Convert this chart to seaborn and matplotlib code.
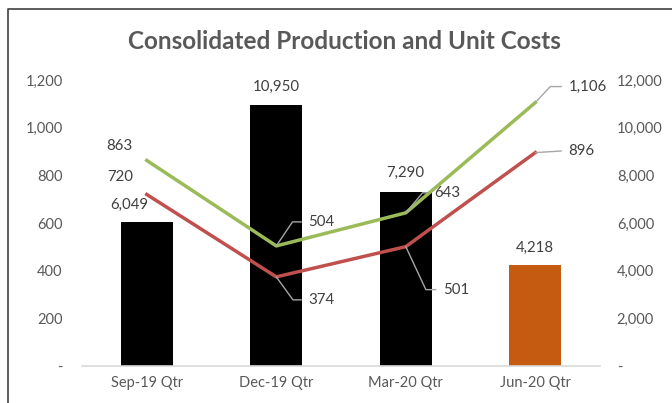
import numpy as np
import seaborn as sns
import matplotlib.pyplot as plt
from matplotlib.lines import Line2D
from matplotlib.ticker import FuncFormatter, MultipleLocator

plt.rcParams["font.family"] = ["Lato", "DejaVu Sans"]

quarters = ["Sep-19 Qtr", "Dec-19 Qtr", "Mar-20 Qtr", "Jun-20 Qtr"]
production = [6049, 10950, 7290, 4218]
cost_green = [863, 504, 643, 1106]
cost_red = [720, 374, 501, 896]

bar_colors = ["#000000", "#000000", "#000000", "#C55A11"]
green = "#9BBB59"
red = "#C0504D"
tick_grey = "#595959"
label_grey = "#404040"
leader_grey = "#A6A6A6"


def px(v):
    # pixel distance -> points at dpi 100
    return v * 0.72


def fmt(v, _=None):
    return "-" if v == 0 else f"{v:,.0f}"


fig, ax = plt.subplots(figsize=(6.72, 4.03), dpi=100, facecolor="w")
fig.subplots_adjust(left=0.122, right=0.893, bottom=0.092, top=0.801)

# bars: production (right scale)
sns.barplot(x=quarters, y=production, hue=quarters, palette=bar_colors,
            legend=False, width=0.4, saturation=1, ax=ax)
ax.set_ylim(0, 12000)
ax.set_xlim(-0.5, 3.5)

# lines: unit costs (left scale), drawn above the bars
ax2 = ax.twinx()
pos = np.arange(len(quarters))
sns.lineplot(x=pos, y=cost_green, color=green, lw=2.5, ax=ax2)
sns.lineplot(x=pos, y=cost_red, color=red, lw=2.5, ax=ax2)
ax2.set_ylim(0, 1200)

ax.yaxis.tick_right()
ax2.yaxis.tick_left()
ax.yaxis.set_major_locator(MultipleLocator(2000))
ax2.yaxis.set_major_locator(MultipleLocator(200))
ax.yaxis.set_major_formatter(FuncFormatter(fmt))
ax2.yaxis.set_major_formatter(FuncFormatter(fmt))
ax.tick_params(axis="y", length=0, pad=12, labelsize=10.5, labelcolor=tick_grey)
ax2.tick_params(axis="y", length=0, pad=14, labelsize=10.5, labelcolor=tick_grey)
ax.set_xticks(pos, quarters)
ax.tick_params(axis="x", length=0, pad=7, labelsize=10.5, labelcolor=tick_grey)
ax.set_xlabel("")
ax.set_ylabel("")
ax2.set_ylabel("")

for a in (ax, ax2):
    for s in a.spines.values():
        s.set_visible(False)
ax.spines["bottom"].set_visible(True)
ax.spines["bottom"].set_color("#D9D9D9")
ax.spines["bottom"].set_linewidth(1.2)

# bar labels
bar_off = [(-17, 17), (0, 18), (0, 19), (0, 18)]
for i, v in enumerate(production):
    ax.annotate(fmt(v), (pos[i], v), xytext=(px(bar_off[i][0]), px(bar_off[i][1])),
                textcoords="offset points", ha="center", va="center",
                fontsize=10.8, color=label_grey)

# line labels: (dx, dy) in px, leader angle or None
green_lab = [(-27, 14, None), (32, 24, 56), (28, 20, 50), (33, 16, 47)]
red_lab = [(-26, 17, None), (32, -23, -54), (37, -43, -65), (33, 2, 0)]

for vals, labs in ((cost_green, green_lab), (cost_red, red_lab)):
    for i, (v, (dx, dy, ang)) in enumerate(zip(vals, labs)):
        if ang is None:
            ax2.annotate(fmt(v), (pos[i], v), xytext=(px(dx), px(dy)),
                         textcoords="offset points", ha="center", va="center",
                         fontsize=10.8, color=label_grey)
        else:
            cs = "arc3" if ang == 0 else f"angle,angleA=0,angleB={ang},rad=0"
            ax2.annotate(fmt(v), (pos[i], v), xytext=(px(dx), px(dy)),
                         textcoords="offset points", ha="left", va="center",
                         fontsize=10.8, color=label_grey,
                         arrowprops=dict(arrowstyle="-", color=leader_grey, lw=1,
                                         shrinkA=3, shrinkB=0, relpos=(0, 0.5),
                                         connectionstyle=cs))

fig.suptitle("Consolidated Production and Unit Costs", x=0.513, y=0.896,
             va="center", fontsize=17.5, fontweight="bold", color=tick_grey)

# chart frame (cropped on right and bottom)
fig.add_artist(Line2D([0.0119, 0.0119, 1.0], [0.0, 0.9777, 0.9777],
                      transform=fig.transFigure, color="#404040", lw=1.2))

fig.savefig("out.png", dpi=100)
